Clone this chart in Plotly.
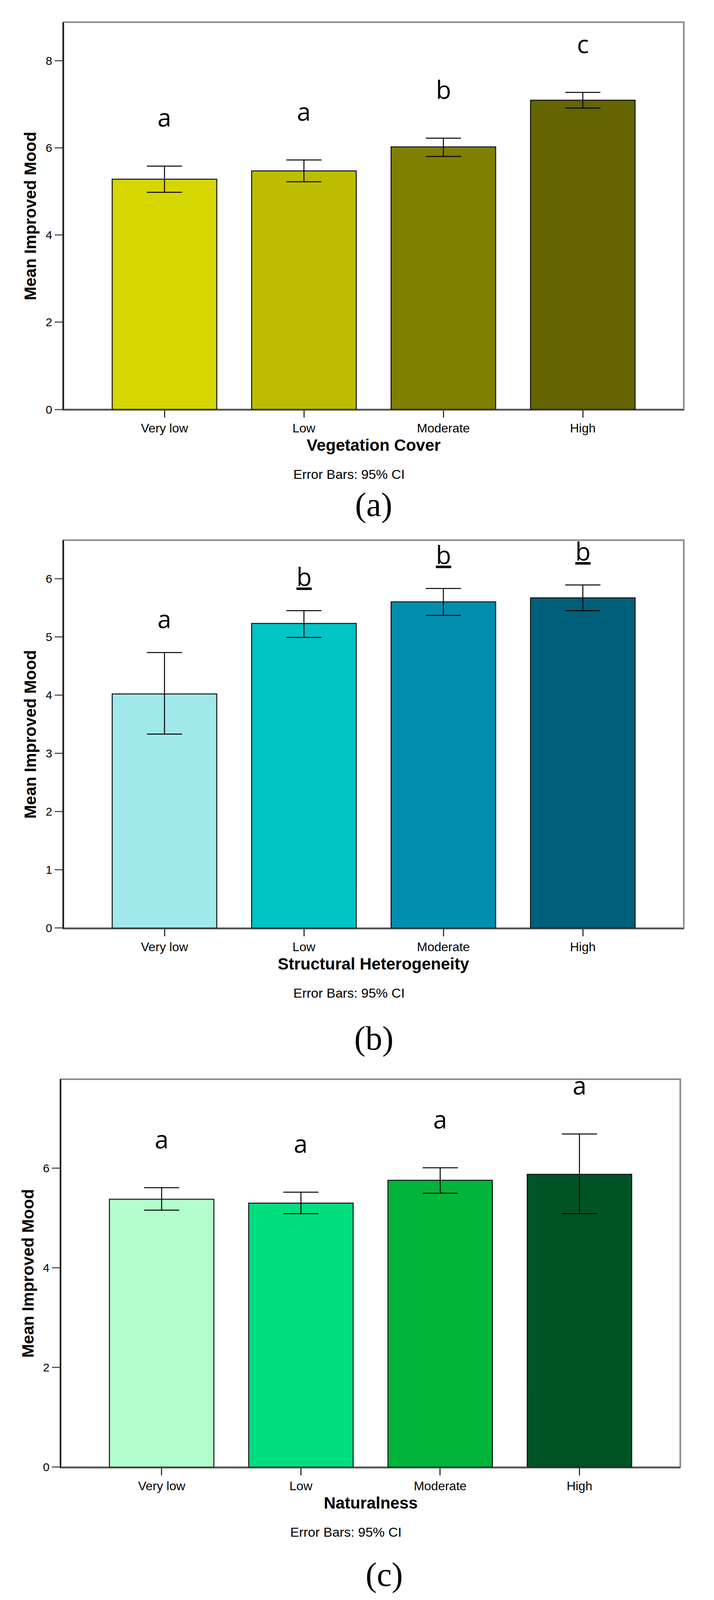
import plotly.graph_objects as go

W, H = 1828, 4765

categories = ["Very low", "Low", "Moderate", "High"]

veg_mean = [5.28, 5.47, 6.02, 7.09]
veg_ci_low = [4.98, 5.22, 5.80, 6.91]
veg_ci_high = [5.58, 5.72, 6.22, 7.27]
veg_letters = ["a", "a", "b", "c"]
veg_underline = [False, False, False, False]
veg_colors = ["#D6D600", "#BDBD00", "#7F7F00", "#646400"]

struct_mean = [4.02, 5.23, 5.60, 5.67]
struct_ci_low = [3.33, 4.99, 5.37, 5.45]
struct_ci_high = [4.73, 5.45, 5.83, 5.89]
struct_letters = ["a", "b", "b", "b"]
struct_underline = [False, True, True, True]
struct_colors = ["#A0E8EA", "#00C4C5", "#008EAF", "#005F78"]

nat_mean = [5.38, 5.30, 5.76, 5.88]
nat_ci_low = [5.16, 5.09, 5.50, 5.09]
nat_ci_high = [5.61, 5.52, 6.01, 6.69]
nat_letters = ["a", "a", "a", "a"]
nat_underline = [False, False, False, False]
nat_colors = ["#B3FFCB", "#00DE7E", "#00B53A", "#005426"]

SANS = "Arial, Liberation Sans, sans-serif"


def px_x(x):
    return x / W


def px_y(y):
    return 1 - y / H


# frame box (left, right, top, bottom in page pixels), y max, y tick step
panels = [
    dict(mean=veg_mean, lo=veg_ci_low, hi=veg_ci_high, letters=veg_letters,
         under=veg_underline, colors=veg_colors, xtitle="Vegetation Cover",
         label="(a)", box=(156, 1758, 57, 1215), ymax=8.88, dtick=2,
         gap=100, label_dy=285, label_dx=0, ytitle_x=70),
    dict(mean=struct_mean, lo=struct_ci_low, hi=struct_ci_high, letters=struct_letters,
         under=struct_underline, colors=struct_colors, xtitle="Structural Heterogeneity",
         label="(b)", box=(156, 1758, 1606, 2766), ymax=6.66, dtick=1,
         gap=62, label_dy=330, label_dx=0, ytitle_x=70),
    dict(mean=nat_mean, lo=nat_ci_low, hi=nat_ci_high, letters=nat_letters,
         under=nat_underline, colors=nat_colors, xtitle="Naturalness",
         label="(c)", box=(149, 1749, 3218, 4378), ymax=7.79, dtick=2,
         gap=100, label_dy=322, label_dx=35, ytitle_x=64),
]

fig = go.Figure()
annotations = []
shapes = []

for i, p in enumerate(panels, start=1):
    xa = "x" if i == 1 else f"x{i}"
    ya = "y" if i == 1 else f"y{i}"
    left, right, top, bottom = p["box"]
    cx = (left + right) / 2

    err_up = [h - m for h, m in zip(p["hi"], p["mean"])]
    err_dn = [m - l for m, l in zip(p["mean"], p["lo"])]

    fig.add_trace(go.Bar(
        x=categories, y=p["mean"], width=0.75,
        marker=dict(color=p["colors"], line=dict(color="#111111", width=2.5)),
        error_y=dict(type="data", array=err_up, arrayminus=err_dn, symmetric=False,
                     color="#000000", thickness=2.5, width=45),
        xaxis=xa, yaxis=ya, showlegend=False, hoverinfo="skip",
    ))

    ax_suffix = "" if i == 1 else str(i)
    fig.layout["xaxis" + ax_suffix] = dict(
        domain=[px_x(left), px_x(right)], anchor=ya,
        range=[-0.724, 3.724], showgrid=False, zeroline=False,
        showline=True, linecolor="#444444", linewidth=3,
        ticks="outside", ticklen=18, tickwidth=3, tickcolor="#333333",
        tickfont=dict(family=SANS, size=32, color="#000000"),
        fixedrange=True,
    )
    fig.layout["yaxis" + ax_suffix] = dict(
        domain=[px_y(bottom), px_y(top)], anchor=xa,
        range=[0, p["ymax"]], dtick=p["dtick"], showgrid=False, zeroline=False,
        showline=True, linecolor="#000000", linewidth=3,
        ticks="outside", ticklen=20, tickwidth=3, tickcolor="#555555",
        tickfont=dict(family=SANS, size=30, color="#000000"),
        fixedrange=True,
    )

    # grey frame around the plot area
    shapes.append(dict(type="rect", xref=xa + " domain", yref=ya + " domain",
                       x0=0, x1=1, y0=0, y1=1, layer="below",
                       line=dict(color="#888888", width=4)))

    # significance letters above the error bars
    for cat, h, letter, u in zip(categories, p["hi"], p["letters"], p["under"]):
        txt = f"<u>{letter}</u>" if u else letter
        annotations.append(dict(
            x=cat, y=h, xref=xa, yref=ya, text=txt, showarrow=False,
            yanchor="bottom", yshift=p["gap"] - 20,
            font=dict(family="Open Sans, Noto Sans, sans-serif", size=64, color="#000000"),
        ))

    annotations.append(dict(
        x=px_x(p["ytitle_x"]), y=px_y((top + bottom) / 2), xref="paper", yref="paper",
        xanchor="center", yanchor="middle",
        text="<b>Mean Improved Mood</b>", textangle=-90, showarrow=False,
        font=dict(family=SANS, size=42, color="#000000"),
    ))
    annotations.append(dict(
        x=px_x(cx), y=px_y(bottom + 107), xref="paper", yref="paper",
        xanchor="center", yanchor="middle",
        text=f"<b>{p['xtitle']}</b>", showarrow=False,
        font=dict(family=SANS, size=42, color="#000000"),
    ))
    annotations.append(dict(
        x=px_x(cx - 64), y=px_y(bottom + 194), xref="paper", yref="paper",
        xanchor="center", yanchor="middle",
        text="Error Bars: 95% CI", showarrow=False,
        font=dict(family=SANS, size=34, color="#000000"),
    ))
    annotations.append(dict(
        x=px_x(cx + p["label_dx"]), y=px_y(bottom + p["label_dy"]), xref="paper", yref="paper",
        xanchor="center", yanchor="middle",
        text=p["label"], showarrow=False,
        font=dict(family="Liberation Serif, DejaVu Serif, serif", size=86, color="#000000"),
    ))

fig.update_layout(
    autosize=True,
    margin=dict(l=0, r=0, t=0, b=0),
    paper_bgcolor="white", plot_bgcolor="white",
    annotations=annotations, shapes=shapes,
    bargap=0.25,
)

fig.write_html("out.html", default_width="100%", default_height="100vh")
